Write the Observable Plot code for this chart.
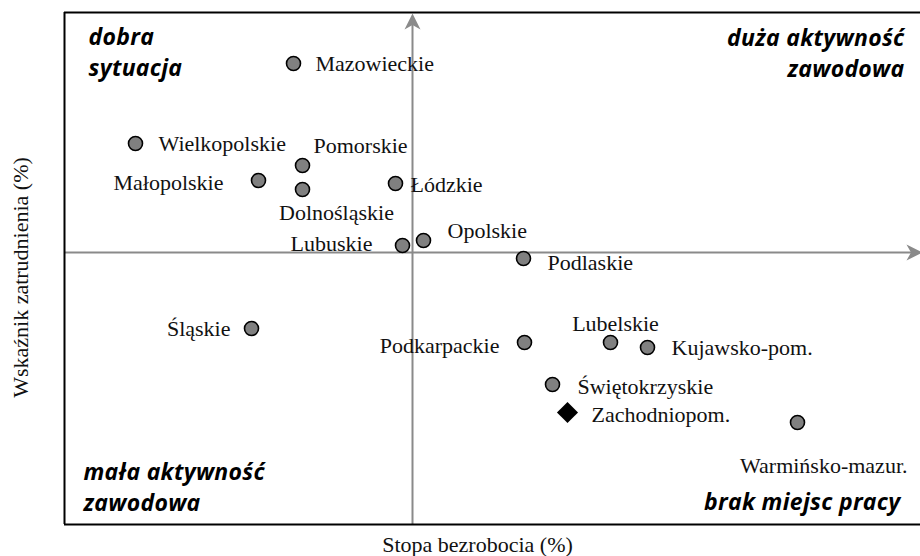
<!DOCTYPE html>
<html>
<head>
<meta charset="utf-8">
<script src="https://cdn.jsdelivr.net/npm/d3@7"></script>
<script src="https://cdn.jsdelivr.net/npm/@observablehq/plot@0.6"></script>
<style>
  html, body { margin: 0; padding: 0; background: #ffffff; }
</style>
</head>
<body>
<div id="chart"></div>
<script>
// ---- Data (relative units, 0 = crossing of the axes) ----
const regions = [
  "Mazowieckie", "Wielkopolskie", "Pomorskie", "Małopolskie", "Dolnośląskie",
  "Łódzkie", "Opolskie", "Lubuskie", "Podlaskie", "Śląskie",
  "Podkarpackie", "Lubelskie", "Kujawsko-pom.", "Świętokrzyskie", "Zachodniopom.",
  "Warmińsko-mazur."
];
const unemployment = [
  -11.9, -27.7, -11.0, -15.4, -11.0,
  -1.7, 1.1, -1.0, 11.1, -16.1,
  11.2, 19.8, 23.5, 14.0, 15.5,
  38.5
];
const employment = [
  18.9, 10.9, 8.7, 7.2, 6.3,
  6.9, 1.2, 0.7, -0.6, -7.6,
  -9.0, -9.0, -9.5, -13.2, -16.0,
  -17.0
];
const markerKind = [
  "circle", "circle", "circle", "circle", "circle",
  "circle", "circle", "circle", "circle", "circle",
  "circle", "circle", "circle", "circle", "diamond",
  "circle"
];
const quadrantLabels = ["dobra\nsytuacja", "duża aktywność\nzawodowa", "mała aktywność\nzawodowa", "brak miejsc pracy"];
const xTitle = "Stopa bezrobocia (%)";
const yTitle = "Wskaźnik zatrudnienia (%)";

// ---- Layout / styling ----
const xDomain = [-34.8, 50.8];
const yDomain = [-27.2, 24];
const axisGray = "#8a8a8a";
const dotGray = "#808080";
const serif = "Liberation Serif, Times New Roman, serif";
const sans = "Open Sans, Lato, sans-serif";

// label placement next to each marker
const labelPlacement = {
  "Mazowieckie":      {anchor: "start",  dx: 22,  dy: 0},
  "Wielkopolskie":    {anchor: "start",  dx: 23,  dy: 0},
  "Pomorskie":        {anchor: "start",  dx: 11,  dy: -20},
  "Małopolskie":      {anchor: "end",    dx: -35, dy: 2},
  "Dolnośląskie":     {anchor: "middle", dx: 34,  dy: 23},
  "Łódzkie":          {anchor: "start",  dx: 15,  dy: 1},
  "Opolskie":         {anchor: "start",  dx: 24,  dy: -10},
  "Lubuskie":         {anchor: "end",    dx: -30, dy: -2},
  "Podlaskie":        {anchor: "start",  dx: 24,  dy: 4},
  "Śląskie":          {anchor: "end",    dx: -21, dy: 0},
  "Podkarpackie":     {anchor: "end",    dx: -25, dy: 3},
  "Lubelskie":        {anchor: "middle", dx: 5,   dy: -19},
  "Kujawsko-pom.":    {anchor: "start",  dx: 24,  dy: 0},
  "Świętokrzyskie":   {anchor: "start",  dx: 25,  dy: 2},
  "Zachodniopom.":    {anchor: "start",  dx: 24,  dy: 2},
  "Warmińsko-mazur.": {anchor: "end",    dx: 110, dy: 43}
};

const table = regions.map((name, i) => ({
  name, x: unemployment[i], y: employment[i], kind: markerKind[i]
}));

// stealth-style arrowheads (tip at the symbol origin)
const arrowUp = {
  draw(ctx, size) {
    const r = Math.sqrt(size / Math.PI), L = r, w = r * 0.5;
    ctx.moveTo(0, 0); ctx.lineTo(w, L); ctx.lineTo(0, L * 0.72); ctx.lineTo(-w, L); ctx.closePath();
  }
};
const arrowRight = {
  draw(ctx, size) {
    const r = Math.sqrt(size / Math.PI), L = r, w = r * 0.5;
    ctx.moveTo(0, 0); ctx.lineTo(-L, w); ctx.lineTo(-L * 0.72, 0); ctx.lineTo(-L, -w); ctx.closePath();
  }
};

const labelMarks = table.map(d => {
  const p = labelPlacement[d.name];
  return Plot.text([d], {
    x: "x", y: "y", text: "name",
    textAnchor: p.anchor, dx: p.dx, dy: p.dy,
    fontFamily: serif, fontSize: 22, fill: "#111"
  });
});

const quadStyle = {fontFamily: sans, fontWeight: "bold", fontStyle: "italic", fontSize: 23, lineHeight: 1.35, lineAnchor: "top", fill: "#000"};

const chart = Plot.plot({
  width: 920,
  height: 556,
  marginLeft: 64,
  marginRight: 0,
  marginTop: 12,
  marginBottom: 32,
  style: {fontFamily: serif, background: "#ffffff"},
  x: {domain: xDomain, axis: null},
  y: {domain: yDomain, axis: null},
  marks: [
    // axes through the means
    Plot.ruleY([0], {x1: xDomain[0], x2: 50.0, stroke: axisGray, strokeWidth: 2}),
    Plot.ruleX([0], {y1: yDomain[0], y2: 23.0, stroke: axisGray, strokeWidth: 2}),
    Plot.dot([{x: 0, y: 23.9}], {x: "x", y: "y", symbol: arrowUp, r: 16, fill: axisGray, stroke: "none"}),
    Plot.dot([{x: 51.0, y: 0}], {x: "x", y: "y", symbol: arrowRight, r: 16, fill: axisGray, stroke: "none"}),
    // frame (top, bottom, left)
    Plot.ruleY([yDomain[1]], {x1: xDomain[0], x2: xDomain[1], stroke: "#000", strokeWidth: 2}),
    Plot.ruleY([yDomain[0]], {x1: xDomain[0], x2: xDomain[1], stroke: "#000", strokeWidth: 2}),
    Plot.ruleX([xDomain[0]], {y1: yDomain[0], y2: yDomain[1], stroke: "#000", strokeWidth: 2}),
    // markers
    Plot.dot(table.filter(d => d.kind === "circle"), {x: "x", y: "y", r: 7, fill: dotGray, stroke: "#000", strokeWidth: 1.6}),
    Plot.dot(table.filter(d => d.kind === "diamond"), {x: "x", y: "y", symbol: "diamond2", r: 9.5, fill: "#000", stroke: "none"}),
    ...labelMarks,
    // quadrant captions
    Plot.text([quadrantLabels[0]], {frameAnchor: "top-left", textAnchor: "start", dx: 24, dy: 10, ...quadStyle}),
    Plot.text([quadrantLabels[1]], {frameAnchor: "top-right", textAnchor: "end", dx: -16, dy: 11, ...quadStyle}),
    Plot.text([quadrantLabels[2]], {frameAnchor: "top-left", textAnchor: "start", dx: 19, dy: 445, ...quadStyle}),
    Plot.text([quadrantLabels[3]], {frameAnchor: "top-right", textAnchor: "end", dx: -20, dy: 475, ...quadStyle}),
    // axis titles
    Plot.text([xTitle], {frameAnchor: "bottom", textAnchor: "middle", dx: -15, dy: 20, lineAnchor: "middle", fontFamily: serif, fontSize: 22, fill: "#111"}),
    Plot.text([yTitle], {frameAnchor: "left", textAnchor: "middle", rotate: -90, dx: -44, dy: 9, lineAnchor: "middle", fontFamily: serif, fontSize: 22, fill: "#111"})
  ]
});

// slightly looser tracking for the quadrant captions
d3.select(chart).selectAll('g[font-style="italic"]').attr("letter-spacing", "0.3px");

document.getElementById("chart").appendChild(chart);
</script>
</body>
</html>
